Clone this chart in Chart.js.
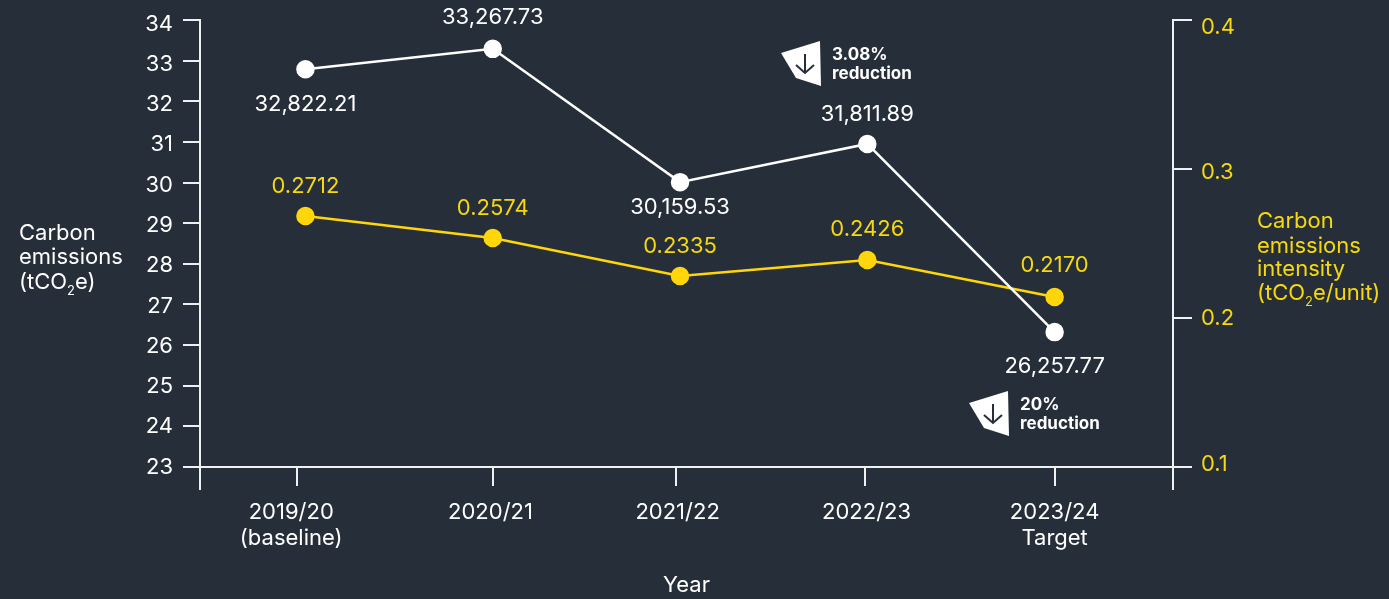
<!DOCTYPE html>
<html>
<head>
<meta charset="utf-8">
<style>
    html, body { margin: 0; padding: 0; background: #262f39; }
    canvas { display: block; }
</style>
<script src="https://cdn.jsdelivr.net/npm/chart.js@4"></script>
</head>
<body>
<canvas id="emissions-chart" width="1389" height="599"></canvas>
<script>
// Chart data
const categories = [['2019/20', '(baseline)'], ['2020/21'], ['2021/22'], ['2022/23'], ['2023/24', 'Target']];
const emissions = [32.79, 33.29, 30.01, 30.95, 26.32];
const intensity = [0.2685, 0.2537, 0.2282, 0.2389, 0.2141];
const emissionLabels = ['32,822.21', '33,267.73', '30,159.53', '31,811.89', '26,257.77'];
const intensityLabels = ['0.2712', '0.2574', '0.2335', '0.2426', '0.2170'];
const leftTicks = [23, 24, 25, 26, 27, 28, 29, 30, 31, 32, 33, 34];
const rightTicks = [0.1, 0.2, 0.3, 0.4];

const BG = '#262f39';
const WHITE = '#ffffff';
const AXIS = '#eef0f1';
const YELLOW = '#ffd60a';
const YELLOW_TEXT = '#f6d80f';
const FONT = 'Inter';
const FONT_SIZE = 22;

// Tick marks and their labels do not quite line up in the original
const xMarks = [-0.043, 1, 1.981, 2.99, 4];
const xLabelCentres = [-0.076, 0.988, 1.987, 2.996, 4];
const X_MIN = -0.563;
const X_MAX = 4.632;

// Label offsets from the point, in pixels
const emissionOffsets = [35, -31, 25, -30, 34];
const intensityOffsets = [-30, -30, -30, -31, -32];

function setTicks(values) {
    return (scale) => {
        scale.ticks = values.map(value => ({ value }));
    };
}

// Drop the margins the labels ask for, so the plot area stays where we put it
function clearPadding(scale) {
    scale.paddingTop = 0;
    scale.paddingBottom = 0;
    scale.paddingLeft = 0;
    scale.paddingRight = 0;
}

function fixWidth(width) {
    return (scale) => {
        scale.width = width;
        clearPadding(scale);
    };
}

function fixHeight(height) {
    return (scale) => {
        scale.height = height;
        clearPadding(scale);
    };
}

function markGrid(length) {
    return { color: AXIS, lineWidth: 2, tickLength: length, drawOnChartArea: false };
}

const font = { family: FONT, size: FONT_SIZE };
const axisBorder = { color: AXIS, width: 2 };
const noGrid = { display: false, drawTicks: false };

// Point labels, axis titles with subscripts, and the two reduction badges
const annotations = {
    id: 'annotations',
    afterDatasetsDraw(chart) {
        const ctx = chart.ctx;
        const { x, y, y1 } = chart.scales;
        ctx.save();
        ctx.textBaseline = 'middle';

        ctx.font = `${FONT_SIZE}px ${FONT}`;
        ctx.textAlign = 'center';
        ctx.fillStyle = WHITE;
        emissionLabels.forEach((text, i) => {
            ctx.fillText(text, x.getPixelForValue(i), y.getPixelForValue(emissions[i]) + emissionOffsets[i]);
        });
        ctx.fillStyle = YELLOW_TEXT;
        intensityLabels.forEach((text, i) => {
            ctx.fillText(text, x.getPixelForValue(i), y1.getPixelForValue(intensity[i]) + intensityOffsets[i]);
        });

        // Axis stubs below the baseline
        ctx.strokeStyle = AXIS;
        ctx.lineWidth = 2;
        [chart.chartArea.left, chart.chartArea.right].forEach(px => {
            ctx.beginPath();
            ctx.moveTo(px, chart.chartArea.bottom);
            ctx.lineTo(px, chart.chartArea.bottom + 23);
            ctx.stroke();
        });

        drawTitle(ctx, 19, [233, 257, 282], ['Carbon', 'emissions', ['(tCO', '2', 'e)']], WHITE);
        drawTitle(ctx, 1257, [221, 246, 269, 293], ['Carbon', 'emissions', 'intensity', ['(tCO', '2', 'e/unit)']], YELLOW_TEXT);

        drawBadge(ctx, 781, 53, ['3.08%', 'reduction']);
        drawBadge(ctx, 969, 403, ['20%', 'reduction']);
        ctx.restore();
    }
};

function drawTitle(ctx, left, rows, lines, color) {
    ctx.fillStyle = color;
    ctx.textAlign = 'left';
    lines.forEach((line, i) => {
        ctx.font = `${FONT_SIZE}px ${FONT}`;
        if (typeof line === 'string') {
            ctx.fillText(line, left, rows[i]);
            return;
        }
        let px = left;
        ctx.fillText(line[0], px, rows[i]);
        px += ctx.measureText(line[0]).width;
        ctx.font = `13px ${FONT}`;
        ctx.fillText(line[1], px, rows[i] + 9);
        px += ctx.measureText(line[1]).width;
        ctx.font = `${FONT_SIZE}px ${FONT}`;
        ctx.fillText(line[2], px, rows[i]);
    });
}

function drawBadge(ctx, bx, by, lines) {
    ctx.fillStyle = WHITE;
    ctx.beginPath();
    ctx.moveTo(bx, by);
    ctx.lineTo(bx + 39, by - 12);
    ctx.lineTo(bx + 40, by + 33);
    ctx.lineTo(bx + 15, by + 25);
    ctx.closePath();
    ctx.fill();

    ctx.strokeStyle = BG;
    ctx.lineWidth = 2;
    ctx.beginPath();
    ctx.moveTo(bx + 24, by + 1);
    ctx.lineTo(bx + 24, by + 20);
    ctx.moveTo(bx + 15, by + 12);
    ctx.lineTo(bx + 24, by + 20);
    ctx.lineTo(bx + 33, by + 12);
    ctx.stroke();

    ctx.fillStyle = WHITE;
    ctx.textAlign = 'left';
    ctx.font = `bold 17px ${FONT}`;
    ctx.fillText(lines[0], bx + 51, by + 2);
    ctx.fillText(lines[1], bx + 51, by + 21);
}

new Chart(document.getElementById('emissions-chart'), {
    type: 'line',
    data: {
        datasets: [
            {
                label: 'Carbon emissions',
                data: emissions.map((v, i) => ({ x: i, y: v })),
                borderColor: WHITE,
                backgroundColor: WHITE,
                borderWidth: 2.5,
                pointRadius: 8,
                tension: 0,
                xAxisID: 'x',
                yAxisID: 'y'
            },
            {
                label: 'Carbon emissions intensity',
                data: intensity.map((v, i) => ({ x: i, y: v })),
                borderColor: YELLOW,
                backgroundColor: YELLOW,
                borderWidth: 2.5,
                pointRadius: 8,
                tension: 0,
                xAxisID: 'x',
                yAxisID: 'y1'
            }
        ]
    },
    options: {
        responsive: false,
        animation: false,
        layout: { padding: { top: 20, left: 0, right: 0, bottom: 0 } },
        plugins: { legend: { display: false }, tooltip: { enabled: false } },
        scales: {
            // Axes with the marks
            x: {
                type: 'linear', position: 'bottom', weight: 0, min: X_MIN, max: X_MAX,
                border: axisBorder,
                grid: markGrid(19),
                ticks: { display: false },
                afterBuildTicks: setTicks(xMarks),
                afterFit: fixHeight(19)
            },
            y: {
                type: 'linear', position: 'left', weight: 0, min: 23, max: 34,
                border: axisBorder,
                grid: markGrid(17),
                ticks: { display: false },
                afterBuildTicks: setTicks(leftTicks),
                afterFit: fixWidth(17)
            },
            y1: {
                type: 'linear', position: 'right', weight: 0, min: 0.1, max: 0.4,
                border: axisBorder,
                grid: markGrid(19),
                ticks: { display: false },
                afterBuildTicks: setTicks(rightTicks),
                afterFit: fixWidth(19)
            },
            // Axes with the labels
            xLabels: {
                type: 'linear', position: 'bottom', weight: 1, min: X_MIN, max: X_MAX,
                border: { display: false },
                grid: noGrid,
                title: { display: true, text: 'Year', color: WHITE, font, padding: { top: 0, bottom: 0 } },
                ticks: {
                    color: WHITE, font, padding: 13, maxRotation: 0, autoSkip: false,
                    callback: (value, index) => categories[index]
                },
                afterBuildTicks: setTicks(xLabelCentres),
                afterFit: fixHeight(113)
            },
            yLabels: {
                type: 'linear', position: 'left', weight: 1, min: 23, max: 34.1,
                border: { display: false },
                grid: noGrid,
                ticks: { color: WHITE, font, padding: 10, autoSkip: false },
                afterBuildTicks: setTicks(leftTicks),
                afterFit: fixWidth(183)
            },
            y1Labels: {
                type: 'linear', position: 'right', weight: 1, min: 0.0979, max: 0.4048,
                border: { display: false },
                grid: noGrid,
                ticks: {
                    color: YELLOW_TEXT, font, padding: 9, autoSkip: false,
                    callback: (value) => value.toFixed(1)
                },
                afterBuildTicks: setTicks(rightTicks),
                afterFit: fixWidth(197)
            }
        }
    },
    plugins: [annotations]
});
</script>
</body>
</html>
